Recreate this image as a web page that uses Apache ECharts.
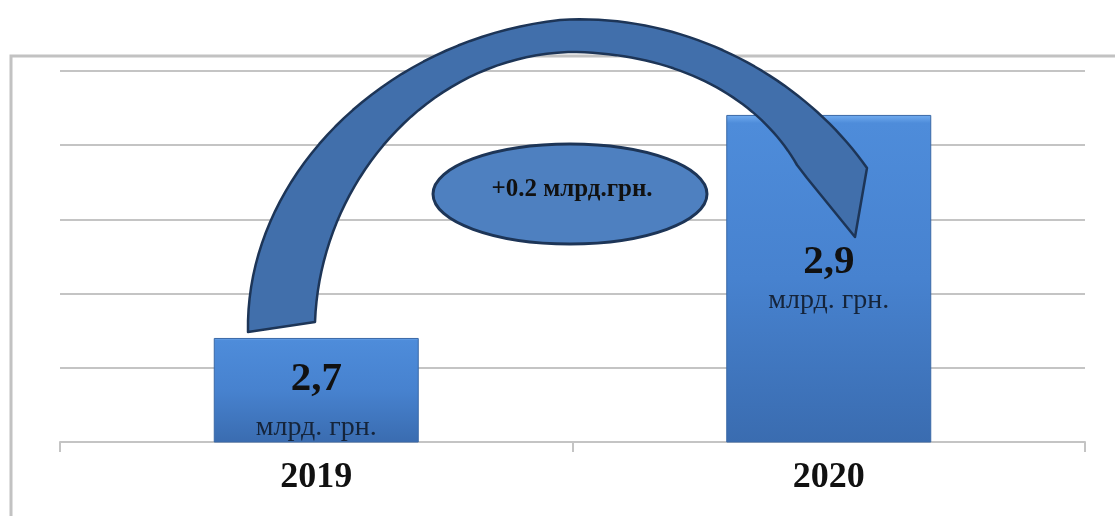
<!DOCTYPE html>
<html>
<head>
<meta charset="utf-8">
<script src="https://cdn.jsdelivr.net/npm/echarts@6/dist/echarts.min.js"></script>
<style>
  html, body { margin: 0; padding: 0; background: #ffffff; }
  #chart { width: 1115px; height: 516px; }
</style>
</head>
<body>
<div id="chart"></div>
<script>
// ---- data ----
var categories = ['2019', '2020'];
var values = [2.7, 2.9];
var unitText = 'млрд. грн.';
var deltaText = '+0.2 млрд.грн.';

// ---- styling ----
var serif = "'Liberation Serif', 'DejaVu Serif', serif";
var gridColor = '#c4c4c4';
var labelLayouts = [
  { distance: 20, l1: 42, l2: 56 },
  { distance: 126, l1: 42, l2: 36 }
];

var barFill = {
  type: 'linear', x: 0, y: 0, x2: 0, y2: 1,
  colorStops: [
    { offset: 0, color: '#72adf0' },
    { offset: 0.025, color: '#4e8cda' },
    { offset: 0.5, color: '#4782cf' },
    { offset: 1, color: '#3a6cb0' }
  ]
};

var seriesData = values.map(function (v, i) {
  var lay = labelLayouts[i];
  return {
    value: v,
    label: {
      position: 'insideTop',
      distance: lay.distance,
      rich: {
        a: { fontFamily: serif, fontWeight: 'bold', fontSize: 41, color: '#111', lineHeight: lay.l1, align: 'center' },
        b: { fontFamily: serif, fontSize: 28, color: '#15243a', lineHeight: lay.l2, align: 'center' }
      }
    }
  };
});

// ---- decorative curved arrow, sampled from cubic beziers ----
function cubic(p0, p1, p2, p3, n) {
  var pts = [];
  for (var i = 0; i <= n; i++) {
    var t = i / n, u = 1 - t;
    pts.push([
      u * u * u * p0[0] + 3 * u * u * t * p1[0] + 3 * u * t * t * p2[0] + t * t * t * p3[0],
      u * u * u * p0[1] + 3 * u * u * t * p1[1] + 3 * u * t * t * p2[1] + t * t * t * p3[1]
    ]);
  }
  return pts;
}
var arrowPts = []
  .concat(cubic([248, 332], [245, 180], [380, 40], [560, 20], 40))
  .concat(cubic([560, 20], [690, 12], [805, 80], [867, 168], 40).slice(1))
  .concat([[855, 237], [807, 178], [797, 165]])
  .concat(cubic([797, 165], [760, 100], [680, 52], [568, 52], 40).slice(1))
  .concat(cubic([568, 52], [425, 58], [320, 185], [315, 322], 40).slice(1));

var chart = echarts.init(document.getElementById('chart'), null, { renderer: 'canvas' });

var option = {
  backgroundColor: '#ffffff',
  animation: false,
  grid: { left: 60, right: 30, top: 71, bottom: 74 },
  xAxis: {
    type: 'category',
    data: categories,
    axisLine: { lineStyle: { color: gridColor, width: 2 } },
    axisTick: { show: true, length: 10, lineStyle: { color: gridColor, width: 2 } },
    axisLabel: { fontFamily: serif, fontWeight: 'bold', fontSize: 36, color: '#111', margin: 18 }
  },
  yAxis: [
    { type: 'value', min: 2.6067, max: 2.9394, show: false, splitLine: { show: false } },
    {
      type: 'value', min: 0, max: 5, interval: 1, position: 'left',
      axisLine: { show: false }, axisTick: { show: false }, axisLabel: { show: false },
      splitLine: { show: true, lineStyle: { color: gridColor, width: 2 } }
    }
  ],
  series: [{
    type: 'bar',
    yAxisIndex: 0,
    data: seriesData,
    barCategoryGap: '60%',
    itemStyle: { color: barFill, borderColor: '#3a68a6', borderWidth: 1 },
    label: {
      show: true,
      formatter: function (p) {
        return '{a|' + String(p.value).replace('.', ',') + '}\n{b|' + unitText + '}';
      }
    },
    z: 2
  }],
  graphic: [
    {
      type: 'rect', z: 0, silent: true,
      shape: { x: 11, y: 56, width: 1200, height: 600 },
      style: { fill: 'none', stroke: '#c2c2c2', lineWidth: 3 }
    },
    {
      type: 'polygon', z: 20, silent: true,
      shape: { points: arrowPts },
      style: { fill: '#416fab', stroke: '#1d3557', lineWidth: 2.5, lineJoin: 'round' }
    },
    {
      type: 'ellipse', z: 20, silent: true,
      shape: { cx: 570, cy: 194, rx: 137, ry: 50 },
      style: { fill: '#4e80c0', stroke: '#1d3557', lineWidth: 3 }
    },
    {
      type: 'text', z: 21, silent: true,
      x: 572, y: 190,
      style: {
        text: deltaText, fontFamily: serif, fontWeight: 'bold', fontSize: 25,
        fill: '#111', align: 'center', verticalAlign: 'middle'
      }
    }
  ]
};

chart.setOption(option);
</script>
</body>
</html>
